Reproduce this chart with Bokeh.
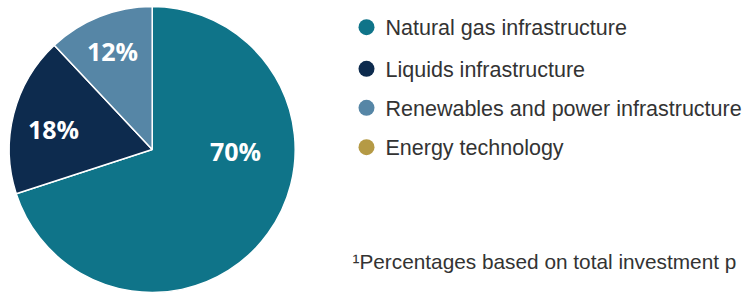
import numpy as np
from bokeh.plotting import figure
from bokeh.models import Range1d, ColumnDataSource
from bokeh.core.properties import value
from bokeh.embed import file_html
from bokeh.resources import INLINE

categories = ["Natural gas infrastructure", "Liquids infrastructure",
              "Renewables and power infrastructure", "Energy technology"]
shares = [70, 18, 12, 0]
colors = ["#0f7489", "#0d2b4e", "#5686a6", "#b59a45"]
pct_labels = ["70%", "18%", "12%"]
footnote = "\u00b9Percentages based on total investment p"

W, H = 746, 293
p = figure(width=W, height=H, output_backend="svg", toolbar_location=None,
           x_range=Range1d(0, W), y_range=Range1d(0, H), min_border=0)
p.axis.visible = False
p.grid.visible = False
p.outline_line_color = None
p.background_fill_color = "white"

# geometry in reference pixel coordinates (y measured from top)
cx, cy, r = 151.7, H - 149.0, 143.0

tot = sum(shares)
angles = np.array(shares) / tot * 2 * np.pi
ends = np.pi / 2 - np.cumsum(angles)
starts = ends + angles
src = ColumnDataSource(dict(start=starts[:3], end=ends[:3], color=colors[:3]))
p.wedge(x=cx, y=cy, radius=r, start_angle="start", end_angle="end",
        direction="clock", fill_color="color", line_color="white",
        line_width=1.5, source=src)

lx = [235, 53, 112]
ly = [H - 150, H - 128, H - 50.5]
p.text(x=lx, y=ly, text=pct_labels, text_color="white",
       text_font=value("Open Sans"), text_font_style="bold",
       text_font_size="25px", text_align="center", text_baseline="middle")

leg_y = [H - 26.7, H - 68.3, H - 107.3, H - 146.7]
p.scatter(x=[366] * 4, y=leg_y, size=16, fill_color=colors, line_color=None)
p.text(x=[385] * 4, y=[v - 1 for v in leg_y], text=categories, text_color="#333333",
       text_font=value("Liberation Sans"), text_font_size="21.5px",
       text_baseline="middle", text_align="left")

p.text(x=[352], y=[H - 261], text=[footnote], text_color="#333333",
       text_font=value("Liberation Sans"), text_font_size="20.8px",
       text_baseline="middle", text_align="left")

open("out.html", "w").write(file_html(p, INLINE))
